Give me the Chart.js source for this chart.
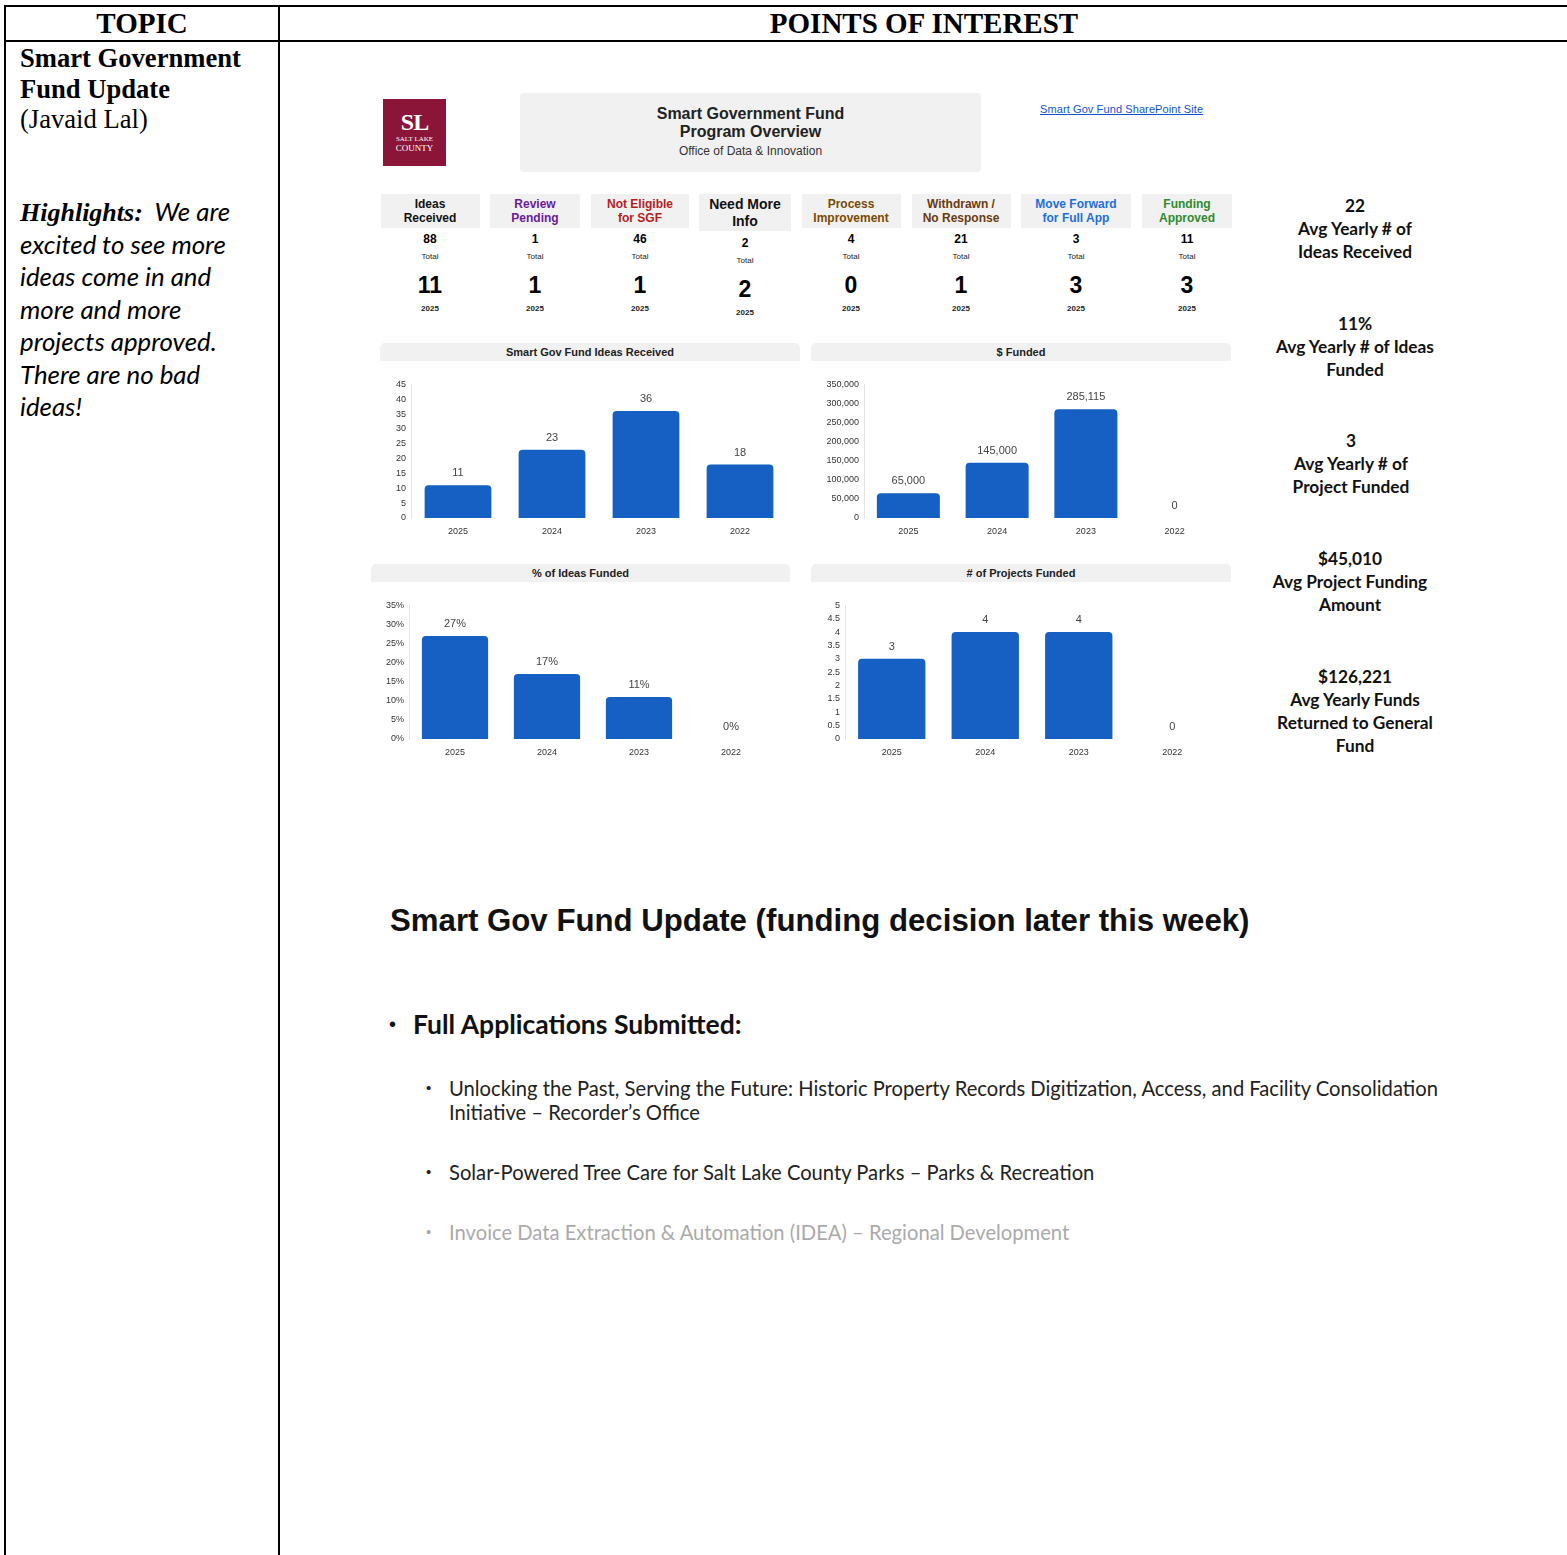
<!DOCTYPE html>
<html>
<head>
<meta charset="utf-8">
<script src="https://cdn.jsdelivr.net/npm/chart.js@4.4.1/dist/chart.umd.min.js"></script>
<style>
  body { margin: 0; width: 1567px; height: 1555px; background: #fff; position: relative; overflow: hidden; font-family: "Liberation Sans", Arial, sans-serif; }
  .abs { position: absolute; }
  .linha { position: absolute; background: #000; }
  .serif { font-family: "Liberation Serif", "Times New Roman", serif; }
  .calib { font-family: Lato, "Open Sans", sans-serif; }
  .faixa { position: absolute; height: 18px; background: #f1f1f1; border-radius: 5px 5px 0 0; font-size: 11px; font-weight: bold; color: #222; text-align: center; line-height: 18px; }
  .bloco { position: absolute; text-align: center; }
  .cab { background: #f1f1f1; font-weight: bold; font-size: 12px; line-height: 14px; display: flex; align-items: center; justify-content: center; text-align: center; }
  .stat { position: absolute; left: 1255px; width: 200px; text-align: center; font-family: Lato, sans-serif; font-weight: bold; font-size: 17.3px; line-height: 23px; color: #111; }
  .sub { position: absolute; font-family: Lato, sans-serif; font-size: 20.2px; line-height: 24px; color: #222; }
  .pt { position: absolute; left: 426px; font-size: 15px; line-height: 24px; color: #222; }
  .hl { height: 32.5px; line-height: 32.5px; white-space: nowrap; }
  canvas { position: absolute; }
</style>
</head>
<body>

<!-- grade da tabela -->
<div class="linha" style="left:4px;top:5px;width:1570px;height:2px"></div>
<div class="linha" style="left:4px;top:40px;width:1570px;height:2px"></div>
<div class="linha" style="left:4px;top:5px;width:2px;height:1560px"></div>
<div class="linha" style="left:278px;top:5px;width:2px;height:1560px"></div>

<div class="abs serif" style="left:6px;width:272px;top:7px;text-align:center;font-size:29px;font-weight:bold;line-height:33px">TOPIC</div>
<div class="abs serif" style="left:280px;width:1288px;top:7px;text-align:center;font-size:29px;font-weight:bold;line-height:33px">POINTS OF INTEREST</div>

<div class="abs serif" style="left:20px;top:43px;font-size:26.6px;line-height:30.5px">
  <b>Smart Government<br>Fund Update</b><br>(Javaid Lal)
</div>
<div class="abs" style="left:20px;top:195px;font-size:25.8px;font-style:italic;font-family:Lato,sans-serif">
  <div class="hl"><b class="serif" style="font-size:26px">Highlights:</b>&nbsp; We are</div>
  <div class="hl">excited to see more</div>
  <div class="hl">ideas come in and</div>
  <div class="hl">more and more</div>
  <div class="hl">projects approved.</div>
  <div class="hl">There are no bad</div>
  <div class="hl">ideas!</div>
</div>

<!-- cabecalho do painel -->
<div class="abs" style="left:383px;top:99px;width:63px;height:67px;background:#8a1538;color:#fff;text-align:center">
  <div class="serif" style="font-weight:bold;font-size:24px;line-height:26px;margin-top:10px;letter-spacing:-1px">SL</div>
  <div class="serif" style="font-size:7px;line-height:8px">SALT LAKE</div>
  <div class="serif" style="font-size:9px;line-height:10px">COUNTY</div>
</div>
<div class="abs" style="left:520px;top:93px;width:461px;height:79px;background:#f1f1f1;border-radius:4px;text-align:center">
  <div style="font-weight:bold;font-size:16px;line-height:18px;margin-top:12px;color:#222">Smart Government Fund<br>Program Overview</div>
  <div style="font-size:12px;line-height:16px;margin-top:2px;color:#333">Office of Data &amp; Innovation</div>
</div>
<div class="abs" style="left:1040px;top:103px;font-size:11px;color:#1155cc;text-decoration:underline;letter-spacing:0.1px">Smart Gov Fund SharePoint Site</div>

<div id="kpis"></div>

<div class="faixa" style="left:380px;top:343px;width:420px">Smart Gov Fund Ideas Received</div>
<div class="faixa" style="left:811px;top:343px;width:420px">$ Funded</div>
<div class="faixa" style="left:371px;top:564px;width:419px">% of Ideas Funded</div>
<div class="faixa" style="left:811px;top:564px;width:420px"># of Projects Funded</div>

<canvas id="g1" width="420" height="170" style="left:380px;top:374px"></canvas>
<canvas id="g2" width="420" height="170" style="left:811px;top:374px"></canvas>
<canvas id="g3" width="420" height="170" style="left:371px;top:595px"></canvas>
<canvas id="g4" width="420" height="170" style="left:811px;top:595px"></canvas>

<!-- indicadores a direita -->
<div class="stat" style="top:194px">22<br>Avg Yearly # of<br>Ideas Received</div>
<div class="stat" style="top:312px">11%<br>Avg Yearly # of Ideas<br>Funded</div>
<div class="stat" style="top:429px;left:1251px">3<br>Avg Yearly # of<br>Project Funded</div>
<div class="stat" style="top:547px;left:1250px">$45,010<br>Avg Project Funding<br>Amount</div>
<div class="stat" style="top:665px">$126,221<br>Avg Yearly Funds<br>Returned to General<br>Fund</div>

<!-- texto de baixo -->
<div class="abs" style="left:390px;top:902px;font-size:31.2px;font-weight:bold;line-height:38px;color:#111">Smart Gov Fund Update (funding decision later this week)</div>
<div class="abs" style="left:389px;top:1008px;font-size:20px;line-height:32px;color:#111">&bull;</div>
<div class="abs calib" style="left:413px;top:1008px;font-size:26.5px;font-weight:bold;line-height:32px;color:#111">Full Applications Submitted:</div>
<div class="pt" style="top:1076px">&bull;</div>
<div class="sub" style="left:449px;top:1076px">Unlocking the Past, Serving the Future: Historic Property Records Digitization, Access, and Facility Consolidation<br>Initiative &ndash; Recorder&rsquo;s Office</div>
<div class="pt" style="top:1160px">&bull;</div>
<div class="sub" style="left:449px;top:1160px">Solar-Powered Tree Care for Salt Lake County Parks &ndash; Parks &amp; Recreation</div>
<div class="pt" style="top:1220px;color:#aaa">&bull;</div>
<div class="sub" style="left:449px;top:1220px;color:#aaa">Invoice Data Extraction &amp; Automation (IDEA) &ndash; Regional Development</div>

<script>
// dados dos cartoes
const status = ["Ideas<br>Received", "Review<br>Pending", "Not Eligible<br>for SGF", "Need More<br>Info", "Process<br>Improvement", "Withdrawn /<br>No Response", "Move Forward<br>for Full App", "Funding<br>Approved"];
const totais = [88, 1, 46, 2, 4, 21, 3, 11];
const ano2025 = [11, 1, 1, 2, 0, 1, 3, 3];
const corStatus = ["#111", "#6a1b9a", "#b3201e", "#111", "#7a4a00", "#6b3a10", "#1e6fd9", "#2e8b2e"];
const centros = [430, 535, 640, 745, 851, 961, 1076, 1187];
const larguras = [99, 90, 98, 92, 99, 99, 110, 90];

// dados dos graficos
const anos = ["2025", "2024", "2023", "2022"];
const ideiasRecebidas = [11, 23, 36, 18];
const valorFinanciado = [65000, 145000, 285115, 0];
const percentFinanciado = [0.27, 0.17, 0.11, 0];
const projetosFinanciados = [3, 4, 4, 0];

const AZUL = "#1560c2";

let html = "";
status.forEach((s, i) => {
  const extra = i == 3 ? 4 : 0;
  const esq = centros[i] - larguras[i] / 2;
  const fonte = i == 3 ? "font-size:14px;line-height:17px;height:37px" : "height:34px";
  html += `<div class="abs cab" style="left:${esq}px;top:194px;width:${larguras[i]}px;${fonte};color:${corStatus[i]}"><div>${s}</div></div>`;
  html += `<div class="bloco" style="left:${centros[i] - 50}px;width:100px;top:${231 + extra}px;font-size:12px;font-weight:bold;line-height:16px">${totais[i]}</div>`;
  html += `<div class="bloco" style="left:${centros[i] - 50}px;width:100px;top:${252 + extra}px;font-size:8px;line-height:10px;color:#222">Total</div>`;
  html += `<div class="bloco" style="left:${centros[i] - 50}px;width:100px;top:${271 + extra}px;font-size:23px;font-weight:bold;line-height:28px">${ano2025[i]}</div>`;
  html += `<div class="bloco" style="left:${centros[i] - 50}px;width:100px;top:${304 + extra}px;font-size:8px;font-weight:bold;line-height:10px;color:#222">2025</div>`;
});
document.querySelector("#kpis").innerHTML = html;

Chart.defaults.font.family = "'Liberation Sans', Arial, sans-serif";

function criarGrafico(id, valores, maximo, passo, formato, larguraEixo, padDireita, barra) {
  const rotulos = {
    id: "rotulos",
    afterDatasetsDraw(chart) {
      const ctx = chart.ctx;
      const meta = chart.getDatasetMeta(0);
      ctx.save();
      ctx.font = "11px 'Liberation Sans', Arial";
      ctx.fillStyle = "#444";
      ctx.textAlign = "center";
      ctx.textBaseline = "middle";
      meta.data.forEach((b, i) => {
        ctx.fillText(formato(valores[i]), b.x, b.y - 12);
      });
      ctx.restore();
    }
  };

  return new Chart(document.querySelector(id), {
    type: "bar",
    data: {
      labels: anos,
      datasets: [
        {
          data: valores,
          backgroundColor: AZUL,
          borderRadius: 4,
          borderSkipped: "bottom",
          categoryPercentage: 1,
          barPercentage: barra,
        },
      ],
    },
    options: {
      responsive: false,
      animation: false,
      devicePixelRatio: 1,
      layout: { padding: { top: 10, right: padDireita, left: 0, bottom: 0 } },
      plugins: { legend: { display: false }, tooltip: { enabled: false } },
      scales: {
        x: {
          grid: { display: false, drawTicks: false },
          border: { display: false },
          ticks: { color: "#333", font: { size: 9 }, padding: 8 },
          afterFit: (s) => { s.height = 26; },
        },
        y: {
          min: 0,
          max: maximo,
          grid: { display: false, drawTicks: false },
          border: { color: "#e4e4e4" },
          ticks: { stepSize: passo, autoSkip: false, color: "#333", font: { size: 9 }, padding: 5, callback: (v) => formato(v) },
          afterFit: (s) => { s.width = larguraEixo; },
        },
      },
    },
    plugins: [rotulos],
  });
}

const numero = (v) => v.toLocaleString("en-US");
const porcento = (v) => Math.round(v * 100) + "%";
const meio = (v) => String(Math.round(v * 10) / 10);

criarGrafico("#g1", ideiasRecebidas, 45, 5, numero, 31, 13, 0.71);
criarGrafico("#g2", valorFinanciado, 350000, 50000, numero, 53, 12, 0.71);
criarGrafico("#g3", percentFinanciado, 0.35, 0.05, porcento, 38, 14, 0.72);
criarGrafico("#g4", projetosFinanciados, 5, 0.5, meio, 34, 12, 0.72);
</script>
</body>
</html>
